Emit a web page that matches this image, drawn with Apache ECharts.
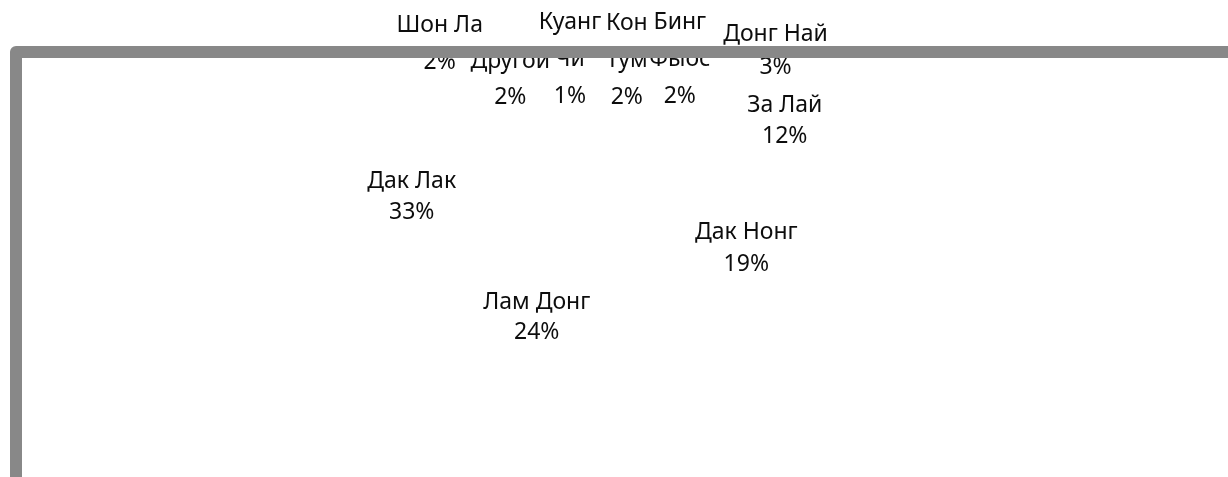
<!DOCTYPE html>
<html>
<head>
<meta charset="utf-8">
<script src="https://cdn.jsdelivr.net/npm/echarts@6/dist/echarts.min.js"></script>
<style>
html,body{margin:0;padding:0;background:#fff;}
#chart{width:1228px;height:477px;}
</style>
</head>
<body>
<div id="chart"></div>
<script>
// ---- data ----
const regions = ['Дак Лак', 'Шон Ла', 'Другой', 'Куанг Чи', 'Кон Тум', 'Бинг Фыос', 'Донг Най', 'За Лай', 'Дак Нонг', 'Лам Донг'];
const shares = [33, 2, 2, 1, 2, 2, 3, 12, 19, 24];

// ---- label presentation (layout only) ----
const wrappedNames = ['Куанг Чи', 'Кон Тум', 'Бинг Фыос'];
const labelLineHeight = {
  'Шон Ла': 37, 'Другой': 36, 'Куанг Чи': 37, 'Кон Тум': 37, 'Бинг Фыос': 37,
  'Донг Най': 33, 'За Лай': 31, 'Дак Нонг': 32, 'Лам Донг': 30, 'Дак Лак': 31
};
const labelShift = {
  'Дак Лак': [2, 2],
  'Шон Ла': [-87, -20],
  'Другой': [-37, 20],
  'Куанг Чи': [7, 2],
  'Кон Тум': [48, 3],
  'Бинг Фыос': [80, 1],
  'Донг Най': [150, -14],
  'За Лай': [92, 16],
  'Дак Нонг': [6, -7],
  'Лам Донг': [-45, -75]
};

const chart = echarts.init(document.getElementById('chart'), null, {renderer: 'canvas'});

const pieData = regions.map((name, i) => ({
  name: name,
  value: shares[i],
  label: {lineHeight: labelLineHeight[name] || 30}
}));

chart.setOption({
  animation: false,
  backgroundColor: '#ffffff',
  series: [{
    type: 'pie',
    center: [575, 225],
    radius: [0, 330],
    startAngle: 229.1,
    clockwise: true,
    avoidLabelOverlap: false,
    silent: true,
    itemStyle: {color: '#ffffff', borderWidth: 0},
    emphasis: {disabled: true},
    labelLine: {show: false},
    label: {
      show: true,
      position: 'inside',
      color: '#0d0d0d',
      fontFamily: 'Noto Sans',
      fontSize: 23,
      lineHeight: 30,
      align: 'center',
      formatter: p => {
        const nm = wrappedNames.includes(p.name) ? p.name.replace(' ', '\n') : p.name;
        return nm + '\n' + Math.round(p.percent) + '%';
      }
    },
    labelLayout: params => {
      const name = regions[params.dataIndex];
      const s = labelShift[name] || [0, 0];
      return {dx: s[0], dy: s[1]};
    },
    data: pieData
  }],
  graphic: [{
    type: 'rect',
    z: 100,
    silent: true,
    shape: {x: 16, y: 52, width: 1400, height: 700},
    style: {fill: null, stroke: '#888888', lineWidth: 12, lineJoin: 'round'}
  }]
});
</script>
</body>
</html>
